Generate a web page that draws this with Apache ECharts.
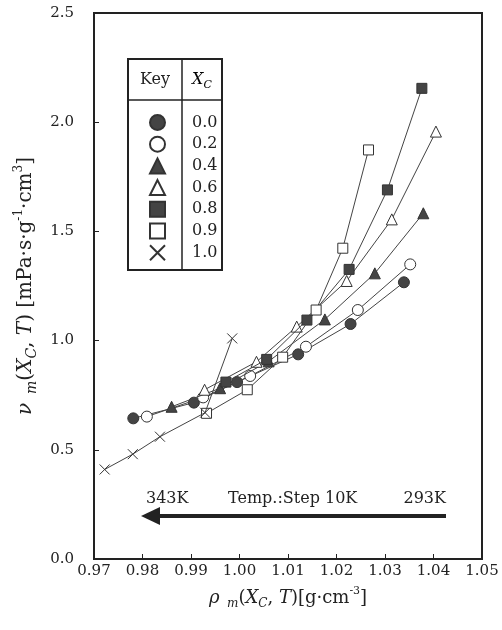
<!DOCTYPE html>
<html>
<head>
<meta charset="utf-8">
<script src="https://cdn.jsdelivr.net/npm/echarts@6/dist/echarts.min.js"></script>
<style>
  html, body { margin: 0; padding: 0; background: #fff; }
  #main { width: 502px; height: 630px; }
</style>
</head>
<body>
<div id="main"></div>
<script>
// mole fraction of each curve (legend)
var xcLabels = ['0.0', '0.2', '0.4', '0.6', '0.8', '0.9', '1.0'];

// density rho_m [g/cm3] and kinematic viscosity nu_m, 343K -> 293K
var rho00 = [0.9781, 0.9906, 0.9995, 1.0121, 1.0229, 1.0339];
var nu00  = [0.644, 0.716, 0.810, 0.937, 1.076, 1.267];
var rho02 = [0.9809, 0.9925, 1.0022, 1.0137, 1.0244, 1.0352];
var nu02  = [0.652, 0.740, 0.838, 0.972, 1.140, 1.349];
var rho04 = [0.9860, 0.9960, 1.0060, 1.0176, 1.0279, 1.0379];
var nu04  = [0.697, 0.782, 0.905, 1.097, 1.308, 1.583];
var rho06 = [0.9928, 1.0035, 1.0118, 1.0221, 1.0314, 1.0405];
var nu06  = [0.775, 0.903, 1.064, 1.273, 1.555, 1.957];
var rho08 = [0.9972, 1.0056, 1.0139, 1.0226, 1.0305, 1.0376];
var nu08  = [0.810, 0.914, 1.094, 1.326, 1.690, 2.155];
var rho09 = [0.9932, 1.0016, 1.0089, 1.0158, 1.0213, 1.0266];
var nu09  = [0.667, 0.775, 0.924, 1.140, 1.423, 1.873];
var rho10 = [0.9722, 0.9780, 0.9836, 0.9929, 0.9985];
var nu10  = [0.410, 0.480, 0.560, 0.670, 1.010];

var xTicks = [0.97, 0.98, 0.99, 1.00, 1.01, 1.02, 1.03, 1.04, 1.05];
var yTicks = [0.0, 0.5, 1.0, 1.5, 2.0, 2.5];

var ink = '#222';
var serif = 'DejaVu Serif';
var crossPath = 'path://M0,0L10,10M10,0L0,10';

function pairs(xs, ys) {
  return xs.map(function (v, i) { return [v, ys[i]]; });
}

// symbol / fill for each curve
var marks = [
  { sym: 'circle',   fill: '#444', size: 11 },
  { sym: 'circle',   fill: '#fff', size: 11 },
  { sym: 'triangle', fill: '#444', size: 11 },
  { sym: 'triangle', fill: '#fff', size: 11 },
  { sym: 'rect',     fill: '#444', size: 10 },
  { sym: 'rect',     fill: '#fff', size: 10 },
  { sym: crossPath,  fill: 'transparent', size: 10 }
];
var dataSets = [
  pairs(rho00, nu00), pairs(rho02, nu02), pairs(rho04, nu04), pairs(rho06, nu06),
  pairs(rho08, nu08), pairs(rho09, nu09), pairs(rho10, nu10)
];

var series = dataSets.map(function (d, i) {
  return {
    name: xcLabels[i],
    type: 'line',
    data: d,
    symbol: marks[i].sym,
    symbolSize: marks[i].size,
    lineStyle: { color: '#444', width: 1 },
    itemStyle: { color: marks[i].fill, borderColor: '#333', borderWidth: 1 },
    z: 3 + i
  };
});

function richSet(fs) {
  var lh = fs + 6;
  return {
    n:   { fontFamily: serif, fontSize: fs, color: ink, lineHeight: lh },
    i:   { fontFamily: serif, fontSize: fs, color: ink, lineHeight: lh, fontStyle: 'italic' },
    sub: { fontFamily: serif, fontSize: Math.round(fs * 0.68), color: ink, lineHeight: lh, fontStyle: 'italic', verticalAlign: 'bottom' },
    sup: { fontFamily: serif, fontSize: Math.round(fs * 0.62), color: ink, lineHeight: lh, verticalAlign: 'top' }
  };
}

var chart = echarts.init(document.getElementById('main'), null, { renderer: 'canvas' });

var option = {
  backgroundColor: '#fff',
  animation: false,
  grid: { left: 94, top: 13, right: 20, bottom: 71, show: true, borderColor: '#222', borderWidth: 2, backgroundColor: 'transparent' },
  xAxis: {
    type: 'value',
    min: xTicks[0], max: xTicks[xTicks.length - 1], interval: 0.01,
    axisLine: { show: true, lineStyle: { color: '#222', width: 2 } },
    axisTick: { show: true, inside: true, length: 5, lineStyle: { color: '#222' } },
    splitLine: { show: false },
    axisLabel: { fontFamily: serif, fontSize: 15, color: ink, margin: 5, formatter: function (v) { return v.toFixed(2); } },
    name: '{i|ρ}{sub|  m}{n|(}{i|X}{sub|C}{n|, }{i|T}{n|)[g·cm}{sup|-3}{n|]}',
    nameLocation: 'middle', nameGap: 27,
    nameTextStyle: { rich: richSet(18) }
  },
  yAxis: {
    type: 'value',
    min: yTicks[0], max: yTicks[yTicks.length - 1], interval: 0.5,
    axisLine: { show: true, lineStyle: { color: '#222', width: 2 } },
    axisTick: { show: true, inside: true, length: 5, lineStyle: { color: '#222' } },
    splitLine: { show: false },
    axisLabel: { fontFamily: serif, fontSize: 15, color: ink, margin: 20, formatter: function (v) { return v.toFixed(1); } },
    name: '{i|ν}{sub|  m}{n|(}{i|X}{sub|C}{n|, }{i|T}{n|) [mPa·s·g}{sup|-1}{n|·cm}{sup|3}{n|]}',
    nameLocation: 'middle', nameGap: 50, nameRotate: 90,
    nameTextStyle: { rich: richSet(20) }
  },
  legend: {
    orient: 'vertical',
    left: 149, top: 114, padding: 0,
    itemWidth: 15, itemHeight: 15, itemGap: 4.7,
    data: xcLabels.map(function (l, i) { return { name: l, icon: marks[i].sym }; }),
    textStyle: { fontFamily: serif, fontSize: 16, color: ink, lineHeight: 15, padding: [0, 0, 0, 22] },
    selectedMode: false
  },
  graphic: [
    // key table
    { type: 'rect', shape: { x: 128, y: 59, width: 94, height: 211 }, style: { fill: 'transparent', stroke: '#222', lineWidth: 2 }, z: 10 },
    { type: 'line', shape: { x1: 128, y1: 100, x2: 222, y2: 100 }, style: { stroke: '#222', lineWidth: 1.5 }, z: 10 },
    { type: 'line', shape: { x1: 182, y1: 59, x2: 182, y2: 270 }, style: { stroke: '#222', lineWidth: 1.5 }, z: 10 },
    { type: 'text', x: 155, y: 80, style: { text: 'Key', font: '16px "DejaVu Serif"', fill: ink, align: 'center', verticalAlign: 'middle' }, z: 10 },
    { type: 'text', x: 202, y: 80, style: { text: '{i|X}{sub|C}', rich: richSet(16), align: 'center', verticalAlign: 'middle' }, z: 10 },
    // temperature arrow
    { type: 'line', shape: { x1: 155, y1: 516, x2: 446, y2: 516 }, style: { stroke: '#222', lineWidth: 4 }, z: 10 },
    { type: 'polygon', shape: { points: [[141, 516], [160, 507], [160, 525]] }, style: { fill: '#222' }, z: 10 },
    { type: 'text', x: 146, y: 499, style: { text: '343K', font: '16px "DejaVu Serif"', fill: ink, verticalAlign: 'middle' }, z: 10 },
    { type: 'text', x: 228, y: 499, style: { text: 'Temp.:Step 10K', font: '16px "DejaVu Serif"', fill: ink, verticalAlign: 'middle' }, z: 10 },
    { type: 'text', x: 446, y: 499, style: { text: '293K', font: '16px "DejaVu Serif"', fill: ink, align: 'right', verticalAlign: 'middle' }, z: 10 }
  ],
  series: series
};

chart.setOption(option);
</script>
</body>
</html>
